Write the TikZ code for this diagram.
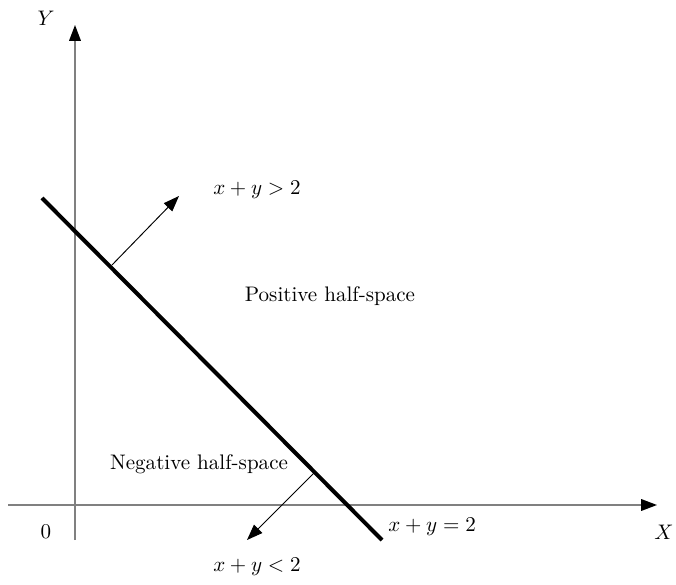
\documentclass[tikz,border=0pt]{standalone}
\usepackage{amsmath, amssymb}
\usetikzlibrary{arrows.meta, positioning}

\begin{document}
\begin{tikzpicture}[x=0.0167cm, y=-0.0167cm, font=\normalsize,
    axis/.style={draw=gray, line width=0.7pt, -{Triangle[length=7.5pt, width=5.5pt, color=black]}},
    normal/.style={draw=black, line width=0.45pt, -{Triangle[length=7.5pt, width=5.5pt]}},
    boundary/.style={line width=1.9pt}]
    \useasboundingbox (0,0) rectangle (676,585);
    % axes
    \coordinate (xstart) at (8,505);
    \coordinate (xend) at (657,505);
    \coordinate (ystart) at (75,540);
    \coordinate (yend) at (75,25);
    \draw[axis] (xstart) -- (xend);
    \draw[axis] (ystart) -- (yend);
    \node (ylab) at (46,18) {$Y$};
    \node (xlab) at (664,532) {$X$};
    \node (orig) at (46,532) {0};
    % the line x+y=2
    \coordinate (lstart) at (42,198);
    \coordinate (lend) at (382,540);
    \draw[boundary] (lstart) -- (lend);
    \node[anchor=west, inner sep=0pt] (eq) at (388,527) {$x+y=2$};
    % normals
    \coordinate (pfoot) at (112,265);
    \coordinate (ptip) at (179,196);
    \draw[normal] (pfoot) -- (ptip);
    \coordinate (nfoot) at (315,472);
    \coordinate (ntip) at (247,540);
    \draw[normal] (nfoot) -- (ntip);
    \node (gt) at (257,190) {$x+y>2$};
    \node (lt) at (257,567) {$x+y<2$};
    \node (pos) at (330,296) {Positive half-space};
    \node (neg) at (199,464) {Negative half-space};
\end{tikzpicture}
\end{document}
